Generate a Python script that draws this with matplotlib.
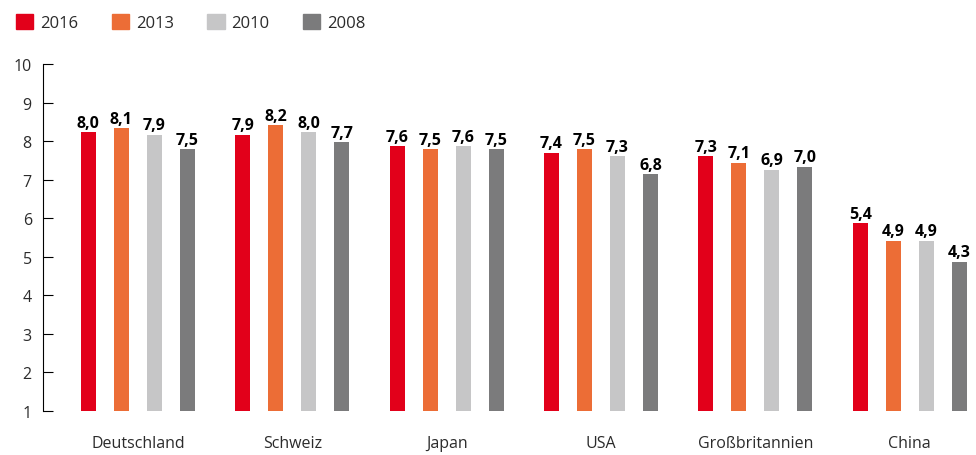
import numpy as np
import matplotlib.pyplot as plt
from matplotlib.patches import Patch

countries = ["Deutschland", "Schweiz", "Japan", "USA", "Großbritannien", "China"]
years = ["2016", "2013", "2010", "2008"]
colors = ["#E2001A", "#EC6D36", "#C6C6C7", "#7B7B7C"]

# printed labels
labels = {
    "2016": ["8,0", "7,9", "7,6", "7,4", "7,3", "5,4"],
    "2013": ["8,1", "8,2", "7,5", "7,5", "7,1", "4,9"],
    "2010": ["7,9", "8,0", "7,6", "7,3", "6,9", "4,9"],
    "2008": ["7,5", "7,7", "7,5", "6,8", "7,0", "4,3"],
}
# bar tops as drawn, read against the axis
heights = {
    "2016": [8.24, 8.17, 7.88, 7.70, 7.62, 5.88],
    "2013": [8.34, 8.42, 7.80, 7.80, 7.44, 5.42],
    "2010": [8.17, 8.24, 7.88, 7.62, 7.26, 5.42],
    "2008": [7.80, 7.98, 7.80, 7.15, 7.34, 4.87],
}

plt.rcParams['font.family'] = ['Open Sans', 'DejaVu Sans']
txt = "#2b2b2b"

fig = plt.figure(figsize=(9.76, 4.56), dpi=100)
ax = fig.add_axes([0.044, 0.0965, 0.956, 0.7605])

x = np.arange(len(countries))
step = 0.2136
width = 0.097
for k, yr in enumerate(years):
    pos = x + (k - 1.5) * step
    ax.bar(pos, np.array(heights[yr]) - 1, width, bottom=1, color=colors[k])
    for p, h, t in zip(pos, heights[yr], labels[yr]):
        ax.annotate(t, (p, h), xytext=(0, 1), textcoords="offset points",
                    ha="center", va="bottom", fontsize=11.5, fontweight="bold",
                    color="black")

ax.set_xlim(-0.615, 5.43)
ax.set_ylim(1, 10)
ax.set_yticks(range(1, 11))
ax.set_xticks(x)
ax.set_xticklabels(countries, fontsize=11.5, color=txt)
ax.tick_params(axis="x", length=0, pad=17)
ax.tick_params(axis="y", direction="in", length=7, labelsize=11.5, pad=8,
               labelcolor=txt)
for s in ["top", "right", "bottom"]:
    ax.spines[s].set_visible(False)

handles = [Patch(color=c) for c in colors]
fig.legend(handles, years, loc="upper left", bbox_to_anchor=(0.001, 1.0), ncol=4,
           frameon=False, fontsize=12, handlelength=1.05, handleheight=1.05,
           handletextpad=0.4, columnspacing=2.0, labelcolor=txt)

fig.savefig("out.png", dpi=100)
